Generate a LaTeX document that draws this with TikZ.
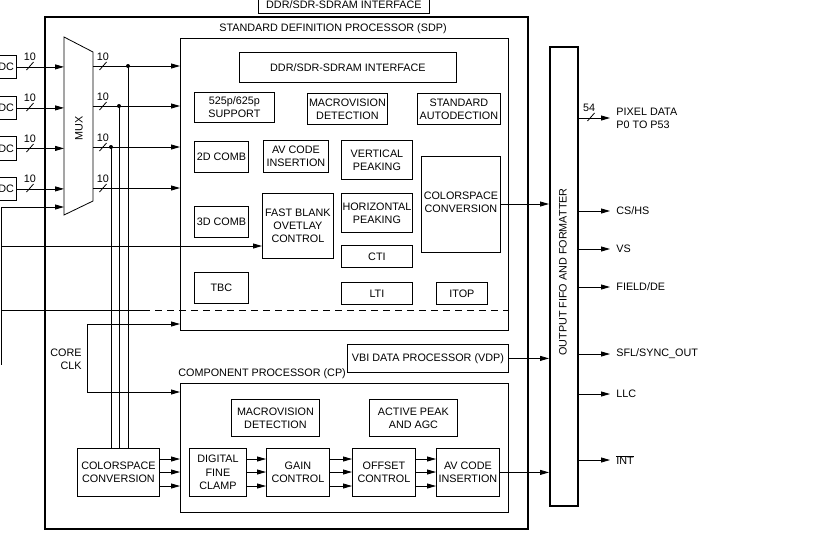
\documentclass[tikz,border=0pt]{standalone}
\usepackage{fontspec}
\setmainfont{Liberation Sans}
\usetikzlibrary{arrows.meta,calc}
\newcommand\mybox[7][]{\node[box,#1,minimum width={(#5-#3)*1pt},minimum height={(#6-#4)*1pt}] (#2) at (#3,#4) {#7};}
\begin{document}
\begin{tikzpicture}[x=1pt,y=-1pt,
  font=\fontsize{10.8}{13.2}\selectfont,
  line width=0.8pt,
  box/.style={draw, line width=0.8pt, align=center, inner sep=0pt, anchor=north west},
  thickbox/.style={line width=1.8pt},
  arr/.style={-{Triangle[length=9pt,width=5pt]}},
  lab/.style={inner sep=0pt},
  dotnode/.style={circle, fill, inner sep=0pt, minimum size=4pt},
  outlab/.style={anchor=west, inner xsep=6pt, inner ysep=0pt, align=left},
  busmark/.pic={\draw (-3.5,4) -- (3.5,-4);}
]
\useasboundingbox (0,0) rectangle (826,546);
\clip (0,0) rectangle (826,546);

% outer chip and top interface
\mybox[thickbox]{chip}{44}{16}{527}{528}{}
\mybox{topddr}{258}{-4}{429}{13}{DDR/SDR-SDRAM INTERFACE}

% ADC inputs
\mybox[align=right,text width=51pt]{adc1}{-40}{55}{16}{78}{ADC}
\mybox[align=right,text width=51pt]{adc2}{-40}{96}{16}{119}{ADC}
\mybox[align=right,text width=51pt]{adc3}{-40}{136}{16}{160}{ADC}
\mybox[align=right,text width=51pt]{adc4}{-40}{177}{16}{200}{ADC}

% MUX
\coordinate (muxTL) at (64,37);
\coordinate (muxTR) at (93,52);
\coordinate (muxBR) at (93,201);
\coordinate (muxBL) at (64,215);
\draw (muxTL) -- (muxTR) -- (muxBR) -- (muxBL) -- cycle;
\node[lab, rotate=90] (mux) at (79,128) {MUX};

\foreach \n in {1,2,3,4}{
  \draw[arr] (adc\n.east) -- (adc\n.east -| muxTL);
}
\foreach \y in {66,107,148,188}{
  \pic at (30,\y) {busmark};
  \node[lab] at (30,57-66+\y) {10};
}

% SDP
\node[lab] (sdplab) at (333,29) {STANDARD DEFINITION PROCESSOR (SDP)};
\mybox{sdp}{180}{38}{508}{330}{}
\mybox{sdpddr}{239}{52}{456}{82}{DDR/SDR-SDRAM INTERFACE}
\mybox{sup}{194}{92}{274}{122}{525p/625p\\SUPPORT}
\mybox{macroA}{307}{93}{387}{124}{MACROVISION\\DETECTION}
\mybox{stdauto}{417}{93}{500}{124}{STANDARD\\AUTODECTION}
\mybox{combA}{194}{141}{248}{172}{2D COMB}
\mybox{avcA}{263}{140}{328}{172}{AV CODE\\INSERTION}
\mybox{vert}{341}{140}{412}{179}{VERTICAL\\PEAKING}
\mybox{cscA}{421}{156}{500}{252}{}
\node[lab, align=center] (cscAtext) at ([yshift=2.5pt]cscA.center) {COLORSPACE\\CONVERSION};
\mybox{combB}{194}{206}{248}{237}{3D COMB}
\mybox{fb}{262}{193}{333}{258}{FAST BLANK\\OVETLAY\\CONTROL}
\mybox{hor}{341}{193}{412}{232}{HORIZONTAL\\PEAKING}
\mybox{cti}{341}{245}{412}{267}{CTI}
\mybox{tbc}{194}{272}{248}{303}{TBC}
\mybox{lti}{341}{282}{412}{304}{LTI}
\mybox{itop}{436}{282}{487}{304}{ITOP}

% MUX outputs
\coordinate (mo1) at (93,66);
\coordinate (mo2) at (93,106);
\coordinate (mo3) at (93,147);
\coordinate (mo4) at (93,188);
\foreach \n in {1,2,3,4}{
  \draw[arr] (mo\n) -- (sdp.west |- mo\n);
}
\foreach \y in {66,106,147,188}{
  \pic at (103,\y) {busmark};
  \node[lab] at (103,57-66+\y) {10};
}
\node[dotnode] (d1) at (128,66) {};
\node[dotnode] (d2) at (119,106) {};
\node[dotnode] (d3) at (111,147) {};

% left-side lines
\coordinate (lb1) at (1,207);
\coordinate (lb2) at (1,365);
\coordinate (lb3) at (1,246);
\coordinate (lb4) at (1,310);
\coordinate (dsh) at (143,310);
\draw (lb1) -- (lb2);
\draw[arr] (lb1) -- (muxTL |- lb1);
\draw[arr] (lb3) -- (fb.west |- lb3);
\draw (lb4) -- (dsh);
\draw[dash pattern=on 7pt off 5pt] (dsh) -- (sdp.east |- dsh);

% CP
\node[lab, anchor=west] (cplab) at (178,374) {COMPONENT PROCESSOR (CP)};
\mybox{vdp}{347}{344}{508}{372}{VBI DATA PROCESSOR (VDP)}
\mybox{cp}{180}{383}{508}{512}{}
\mybox{macroB}{231}{399}{319}{436}{MACROVISION\\DETECTION}
\mybox{apk}{369}{399}{457}{436}{ACTIVE PEAK\\AND AGC}
\mybox{dfc}{189}{448}{246}{496}{DIGITAL\\FINE\\CLAMP}
\mybox{gain}{266}{448}{329}{496}{GAIN\\CONTROL}
\mybox{off}{352}{448}{415}{496}{OFFSET\\CONTROL}
\mybox{avcB}{436}{448}{499}{496}{AV CODE\\INSERTION}
\mybox{cscB}{77}{448}{159}{496}{COLORSPACE\\CONVERSION}

\foreach \n in {1,2,3}{
  \draw (d\n.center) -- (d\n.center |- cscB.north);
}

% CORE CLK
\coordinate (ck1) at (87,324);
\coordinate (ck2) at (87,392);
\draw[arr] (ck1) -- (sdp.west |- ck1);
\draw[arr] (ck1) -- (ck2) -- (cp.west |- ck2);
\node[lab, anchor=east, align=right] (clk) at (82,359) {CORE\\CLK};

% CP data path
\coordinate (r1) at (0,459);
\coordinate (r2) at (0,472);
\coordinate (r3) at (0,486);
\foreach \r in {r1,r2,r3}{
  \draw[arr] (cscB.east |- \r) -- (cp.west |- \r);
  \draw[arr] (dfc.east |- \r) -- (gain.west |- \r);
  \draw[arr] (gain.east |- \r) -- (off.west |- \r);
  \draw[arr] (off.east |- \r) -- (avcB.west |- \r);
}

% FIFO
\node[box, line width=1.8pt, minimum width=28pt, minimum height=459pt] (fifo) at (549,46) {};
\node[lab, rotate=90] (fifolab) at (563,272) {OUTPUT FIFO AND FORMATTER};

\coordinate (cs1) at (0,204);
\draw[arr] (cscA.east |- cs1) -- (fifo.west |- cs1);
\draw[arr] (vdp.east) -- (fifo.west |- vdp.east);
\draw[arr] (avcB.east) -- (fifo.west |- avcB.east);

% outputs
\node[outlab] (o1) at (610,118) {PIXEL DATA\\P0 TO P53};
\node[outlab] (o2) at (610,211) {CS/HS};
\node[outlab] (o3) at (610,249) {VS};
\node[outlab] (o4) at (610,287) {FIELD/DE};
\node[outlab] (o5) at (610,354) {SFL/SYNC\_OUT};
\node[outlab] (o6) at (610,394) {LLC};
\node[outlab] (o7) at (610,460) {$\overline{\mbox{INT}}$};
\foreach \n in {1,...,7}{
  \draw[arr] (fifo.east |- o\n.west) -- (o\n.west);
}
\pic at (591,117) {busmark};
\node[lab] at (589,108) {54};
\end{tikzpicture}
\end{document}
